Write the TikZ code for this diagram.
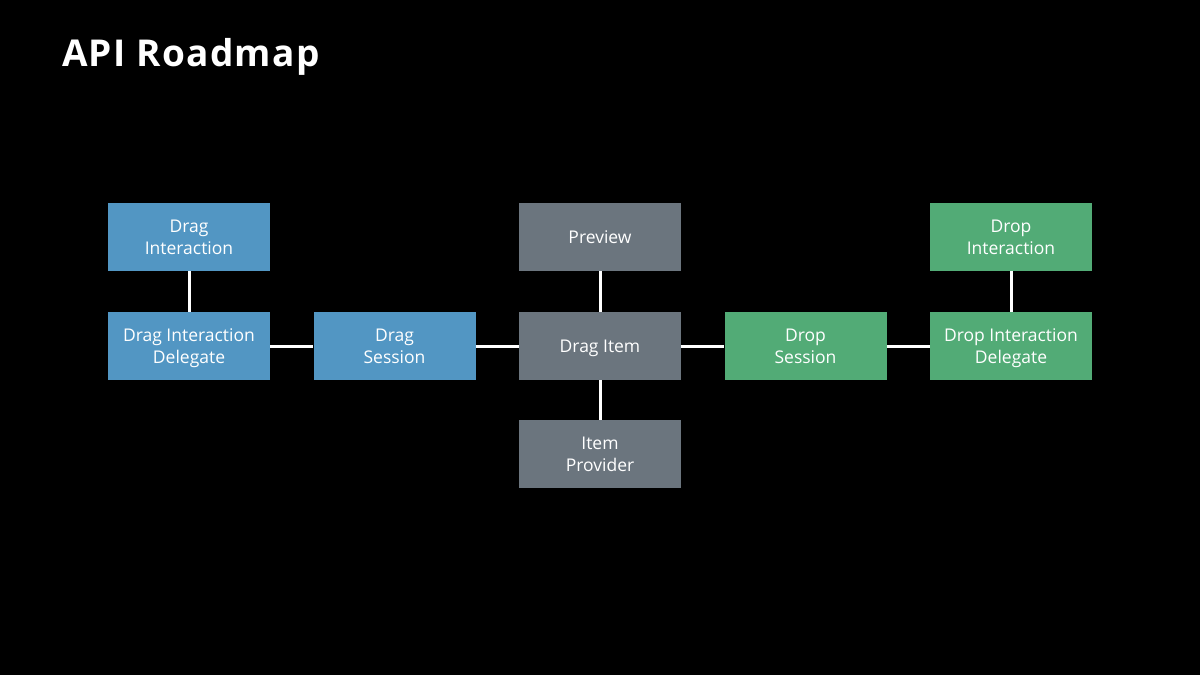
\documentclass[tikz,border=0pt]{standalone}
\usepackage{fontspec}
\setmainfont{Open Sans}
\definecolor{bluebox}{HTML}{5296C3}
\definecolor{graybox}{HTML}{6B757E}
\definecolor{greenbox}{HTML}{52AB76}
\begin{document}
\begin{tikzpicture}[x=1pt,y=-1pt,
  box/.style={minimum width=162pt,minimum height=68pt,inner sep=0pt,text=white,align=center,
    text depth=0pt,font=\fontsize{17.5}{22}\selectfont},
  bl/.style={box,fill=bluebox},
  gr/.style={box,fill=graybox},
  gn/.style={box,fill=greenbox},
  conn/.style={draw=white,line width=3pt}]
\fill[black] (0,0) rectangle (1200,675);
\useasboundingbox (0,0) rectangle (1200,675);
\node[anchor=base west,text=white,font=\bfseries\fontsize{37}{40}\selectfont\addfontfeature{LetterSpace=3.5},inner sep=0pt] (title) at (62,66) {API Roadmap};
% nodes
\node[bl] (di)  at (189,237) {Drag\\Interaction};
\node[bl] (did) at (189,346) {Drag Interaction\\Delegate};
\node[bl] (ds)  at (394.5,346) {Drag\\Session};
\node[gr] (pv)  at (600,237) {Preview};
\node[gr] (dit) at (600,346) {Drag Item};
\node[gr] (ip)  at (600,454) {Item\\Provider};
\node[gn] (drs) at (805.5,346) {Drop\\Session};
\node[gn] (dri) at (1011,237) {Drop\\Interaction};
\node[gn] (drd) at (1011,346) {Drop Interaction\\Delegate};
% connectors
\draw[conn] (di) -- (did);
\draw[conn] (did) -- (ds);
\draw[conn] (ds) -- (dit);
\draw[conn] (pv) -- (dit);
\draw[conn] (dit) -- (ip);
\draw[conn] (dit) -- (drs);
\draw[conn] (drs) -- (drd);
\draw[conn] (dri) -- (drd);
\end{tikzpicture}
\end{document}
